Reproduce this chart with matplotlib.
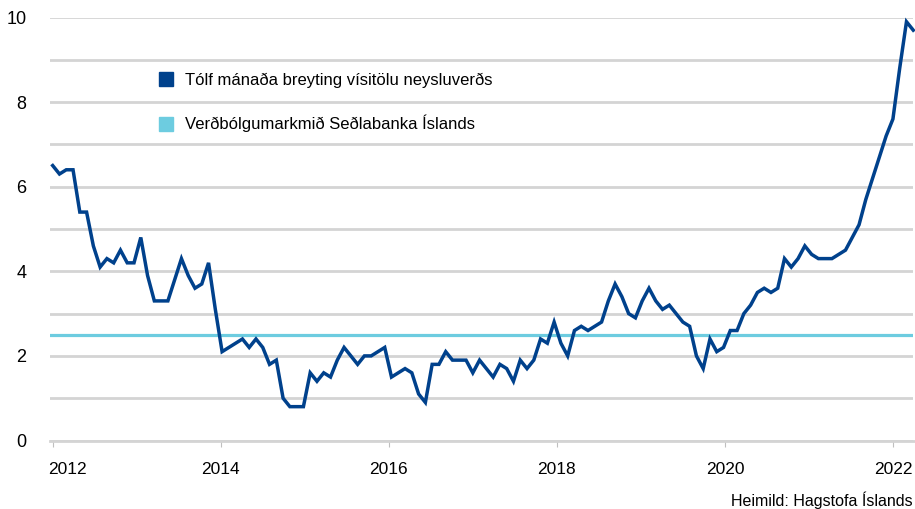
import numpy as np
import matplotlib
matplotlib.use("Agg")
import matplotlib.pyplot as plt
from matplotlib.lines import Line2D
from matplotlib.transforms import ScaledTranslation

plt.rcParams['font.family'] = ['Liberation Sans', 'DejaVu Sans']

# Monthly 12-month CPI change, Jan 2012 - Aug 2022
cpi_2012 = [6.5, 6.3, 6.4, 6.4, 5.4, 5.4, 4.6, 4.1, 4.3, 4.2, 4.5, 4.2]
cpi_2013 = [4.2, 4.8, 3.9, 3.3, 3.3, 3.3, 3.8, 4.3, 3.9, 3.6, 3.7, 4.2]
cpi_2014 = [3.1, 2.1, 2.2, 2.3, 2.4, 2.2, 2.4, 2.2, 1.8, 1.9, 1.0, 0.8]
cpi_2015 = [0.8, 0.8, 1.6, 1.4, 1.6, 1.5, 1.9, 2.2, 2.0, 1.8, 2.0, 2.0]
cpi_2016 = [2.1, 2.2, 1.5, 1.6, 1.7, 1.6, 1.1, 0.9, 1.8, 1.8, 2.1, 1.9]
cpi_2017 = [1.9, 1.9, 1.6, 1.9, 1.7, 1.5, 1.8, 1.7, 1.4, 1.9, 1.7, 1.9]
cpi_2018 = [2.4, 2.3, 2.8, 2.3, 2.0, 2.6, 2.7, 2.6, 2.7, 2.8, 3.3, 3.7]
cpi_2019 = [3.4, 3.0, 2.9, 3.3, 3.6, 3.3, 3.1, 3.2, 3.0, 2.8, 2.7, 2.0]
cpi_2020 = [1.7, 2.4, 2.1, 2.2, 2.6, 2.6, 3.0, 3.2, 3.5, 3.6, 3.5, 3.6]
cpi_2021 = [4.3, 4.1, 4.3, 4.6, 4.4, 4.3, 4.3, 4.3, 4.4, 4.5, 4.8, 5.1]
cpi_2022 = [5.7, 6.2, 6.7, 7.2, 7.6, 8.8, 9.9, 9.7]

inflation_target = 2.5

year_labels = ['2012', '2014', '2016', '2018', '2020', '2022']
y_labels = ['0', '2', '4', '6', '8', '10']

series_label = 'Tólf mánaða breyting vísitölu neysluverðs'
target_label = 'Verðbólgumarkmið Seðlabanka Íslands'
source_text = 'Heimild: Hagstofa Íslands'

cpi = (cpi_2012 + cpi_2013 + cpi_2014 + cpi_2015 + cpi_2016 + cpi_2017
       + cpi_2018 + cpi_2019 + cpi_2020 + cpi_2021 + cpi_2022)
x = np.arange(len(cpi))

W, H = 915, 509
fig = plt.figure(figsize=(W / 100, H / 100), dpi=100)
px_per = 6.776
left_px, right_px = 50.0, 913.5
bottom_px, top_px = 440.5, 17.5
ax = fig.add_axes([left_px / W, (H - bottom_px) / H,
                   (right_px - left_px) / W, (bottom_px - top_px) / H])

dark_blue = '#00418c'
cyan = '#6dcce0'
grid_c = '#d4d4d4'

ax.axhline(inflation_target, color=cyan, lw=2.3, zorder=3)
ax.plot(x, cpi, color=dark_blue, lw=2.5, zorder=4, clip_on=False,
        solid_joinstyle='miter')

ax.set_xlim(-(52.7 - left_px) / px_per, (right_px - 52.7) / px_per)
ax.set_ylim(0, 10)

ax.set_yticks(np.arange(0, 11, 2))
ax.set_yticklabels(y_labels)
ax.set_yticks(np.arange(1, 10, 2), minor=True)
ax.yaxis.grid(True, which='both', color=grid_c, lw=2.0, zorder=0)
ax.set_axisbelow(True)
ax.tick_params(axis='y', which='both', length=0, pad=17, labelsize=13,
               labelcolor='#000000')

tick_pos = np.arange(len(year_labels)) * 24.8
ax.set_xticks(tick_pos)
ax.set_xticklabels(year_labels)
ax.tick_params(axis='x', length=4, width=0.8, color='#bfbfbf', pad=11.5,
               labelsize=12.5)
lbl0 = ax.get_xticklabels()[0]
lbl0.set_ha('left')
lbl0.set_transform(lbl0.get_transform()
                   + ScaledTranslation(-5 / 100, 0, fig.dpi_scale_trans))

for s in ['top', 'right', 'left']:
    ax.spines[s].set_visible(False)
ax.spines['bottom'].set_color(grid_c)
ax.spines['bottom'].set_linewidth(2.0)

handles = [Line2D([], [], marker='s', linestyle='none', markersize=10.5,
                  color=dark_blue, label=series_label),
           Line2D([], [], marker='s', linestyle='none', markersize=10.5,
                  color=cyan, label=target_label)]
leg = ax.legend(handles=handles, loc='upper left',
                bbox_to_anchor=(158 / W, (H - 73) / H),
                bbox_transform=fig.transFigure, frameon=False,
                fontsize=12, handlelength=1.0, handletextpad=0.6,
                labelspacing=1.6, borderpad=0, borderaxespad=0)

fig.text(913 / W, (H - 500) / H, source_text, ha='right', va='center',
         fontsize=11.5, color='#000000')

fig.savefig('out.png', dpi=100)
